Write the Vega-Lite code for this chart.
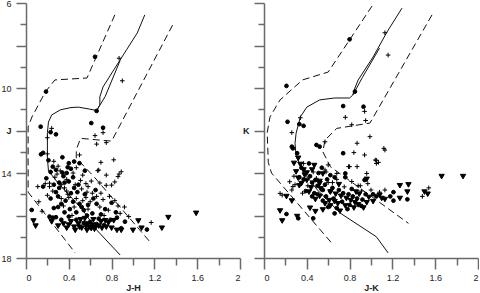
{
  "$schema": "https://vega.github.io/schema/vega-lite/v6.json",
  "padding": {"left": 0, "top": -1, "right": 0, "bottom": 0},
  "bounds": "flush",
  "spacing": 24,
  "background": "white",
  "config": {
    "view": {"stroke": null},
    "axis": {
      "domainColor": "#6a6a6a", "domainWidth": 1.5, "tickColor": "#6a6a6a", "tickWidth": 1.5,
      "grid": false, "labelFont": "Liberation Sans", "labelFontSize": 9, "labelColor": "#222",
      "titleFont": "Liberation Sans", "titleFontSize": 9, "titleFontWeight": "bold", "titleColor": "#222"
    }
  },
  "datasets": {
    "jh_lines": [
      {"s":"a","o":1,"d":0,"x":0.88,"y":17.86},{"s":"a","o":2,"d":0,"x":0.66,"y":16.68},{"s":"a","o":3,"d":0,"x":0.53,"y":15.74},
      {"s":"a","o":4,"d":0,"x":0.30,"y":14.47},{"s":"a","o":5,"d":0,"x":0.21,"y":13.9},{"s":"a","o":6,"d":0,"x":0.20,"y":13.3},
      {"s":"a","o":7,"d":0,"x":0.20,"y":12.1},{"s":"a","o":8,"d":0,"x":0.21,"y":11.6},{"s":"a","o":9,"d":0,"x":0.24,"y":11.27},
      {"s":"a","o":10,"d":0,"x":0.32,"y":11.03},{"s":"a","o":11,"d":0,"x":0.42,"y":10.92},{"s":"a","o":12,"d":0,"x":0.49,"y":10.9},
      {"s":"a","o":13,"d":0,"x":0.58,"y":10.98},{"s":"a","o":14,"d":0,"x":0.66,"y":11.06},{"s":"a","o":15,"d":0,"x":0.69,"y":10.8},
      {"s":"a","o":16,"d":0,"x":0.69,"y":10.42},{"s":"a","o":17,"d":0,"x":0.72,"y":9.95},{"s":"a","o":18,"d":0,"x":0.82,"y":9.15},
      {"s":"a","o":19,"d":0,"x":0.94,"y":8.2},{"s":"a","o":20,"d":0,"x":1.04,"y":7.41},{"s":"a","o":21,"d":0,"x":1.11,"y":6.56},
      {"s":"b","o":1,"d":0,"x":0.66,"y":11.06},{"s":"b","o":2,"d":0,"x":0.74,"y":10.4},{"s":"b","o":3,"d":0,"x":0.88,"y":8.7},
      {"s":"c","o":1,"d":1,"x":0.83,"y":6.56},{"s":"c","o":2,"d":1,"x":0.57,"y":9.53},{"s":"c","o":3,"d":1,"x":0.27,"y":9.62},
      {"s":"c","o":4,"d":1,"x":0.18,"y":10.19},{"s":"c","o":5,"d":1,"x":0.056,"y":11.36},{"s":"c","o":6,"d":1,"x":0.02,"y":11.83},
      {"s":"c","o":7,"d":1,"x":0.02,"y":14.9},{"s":"c","o":8,"d":1,"x":0.46,"y":17.76},
      {"s":"d","o":1,"d":1,"x":1.37,"y":7.04},{"s":"d","o":2,"d":1,"x":0.80,"y":12.5},{"s":"d","o":3,"d":1,"x":0.51,"y":12.37},
      {"s":"d","o":4,"d":1,"x":0.47,"y":12.9},{"s":"d","o":5,"d":1,"x":0.47,"y":13.3},{"s":"d","o":6,"d":1,"x":0.64,"y":14.2},
      {"s":"d","o":7,"d":1,"x":1.16,"y":17.25}
    ],
    "jk_lines": [
      {"s":"a","o":1,"d":0,"x":1.16,"y":17.76},{"s":"a","o":2,"d":0,"x":1.05,"y":17.0},{"s":"a","o":3,"d":0,"x":0.71,"y":15.88},
      {"s":"a","o":4,"d":0,"x":0.50,"y":14.8},{"s":"a","o":5,"d":0,"x":0.36,"y":13.9},{"s":"a","o":6,"d":0,"x":0.30,"y":13.2},
      {"s":"a","o":7,"d":0,"x":0.29,"y":12.6},{"s":"a","o":8,"d":0,"x":0.30,"y":12.13},{"s":"a","o":9,"d":0,"x":0.34,"y":11.36},
      {"s":"a","o":10,"d":0,"x":0.40,"y":10.9},{"s":"a","o":11,"d":0,"x":0.52,"y":10.56},{"s":"a","o":12,"d":0,"x":0.66,"y":10.47},
      {"s":"a","o":13,"d":0,"x":0.80,"y":10.47},{"s":"a","o":14,"d":0,"x":0.83,"y":10.33},{"s":"a","o":15,"d":0,"x":0.85,"y":10.0},
      {"s":"a","o":16,"d":0,"x":0.88,"y":9.62},{"s":"a","o":17,"d":0,"x":1.02,"y":8.54},{"s":"a","o":18,"d":0,"x":1.15,"y":7.36},
      {"s":"a","o":19,"d":0,"x":1.29,"y":6.24},
      {"s":"b","o":1,"d":0,"x":0.83,"y":10.33},{"s":"b","o":2,"d":0,"x":0.92,"y":9.5},{"s":"b","o":3,"d":0,"x":1.08,"y":8.12},
      {"s":"c","o":1,"d":1,"x":1.01,"y":6.14},{"s":"c","o":2,"d":1,"x":0.60,"y":9.25},{"s":"c","o":3,"d":1,"x":0.36,"y":9.62},
      {"s":"c","o":4,"d":1,"x":0.15,"y":10.56},{"s":"c","o":5,"d":1,"x":0.056,"y":11.36},{"s":"c","o":6,"d":1,"x":0.03,"y":12.1},
      {"s":"c","o":7,"d":1,"x":0.04,"y":13.5},{"s":"c","o":8,"d":1,"x":0.07,"y":14.0},{"s":"c","o":9,"d":1,"x":0.65,"y":17.4},
      {"s":"d","o":1,"d":1,"x":1.57,"y":6.56},{"s":"d","o":2,"d":1,"x":0.99,"y":11.65},{"s":"d","o":3,"d":1,"x":0.68,"y":11.9},
      {"s":"d","o":4,"d":1,"x":0.57,"y":12.45},{"s":"d","o":5,"d":1,"x":0.55,"y":13.0},{"s":"d","o":6,"d":1,"x":0.62,"y":13.7},
      {"s":"d","o":7,"d":1,"x":1.35,"y":16.37}
    ],
    "jh_pts": [
      {"t":"c","x":0.645,"y":8.53},{"t":"p","x":0.87,"y":8.6},{"t":"p","x":0.90,"y":9.66},{"t":"c","x":0.187,"y":10.17},
      {"t":"c","x":0.66,"y":11.08},{"t":"c","x":0.137,"y":11.82},{"t":"c","x":0.61,"y":11.65},{"t":"c","x":0.72,"y":11.87},
      {"t":"p","x":0.72,"y":12.1},{"t":"p","x":0.24,"y":11.9},{"t":"c","x":0.23,"y":12.08},{"t":"c","x":0.28,"y":12.18},
      {"t":"p","x":0.2,"y":12.34},{"t":"p","x":0.645,"y":12.24},{"t":"p","x":0.66,"y":12.64},{"t":"p","x":0.75,"y":12.57},
      {"t":"c","x":0.14,"y":13.12},{"t":"c","x":0.16,"y":13.05},{"t":"p","x":0.2,"y":13.1},{"t":"p","x":0.5,"y":13.15},{"t":"c","x":0.34,"y":13.26},
      {"t":"c","x":0.21,"y":13.4},{"t":"p","x":0.26,"y":13.45},{"t":"c","x":0.40,"y":13.54},{"t":"c","x":0.45,"y":13.46},
      {"t":"c","x":0.50,"y":13.54},{"t":"p","x":0.70,"y":13.5},{"t":"p","x":0.82,"y":13.38},{"t":"c","x":0.39,"y":13.73},
      {"t":"c","x":0.25,"y":13.7},{"t":"p","x":0.30,"y":13.68},{"t":"c","x":0.55,"y":13.89},{"t":"c","x":0.34,"y":13.98},
      {"t":"c","x":0.38,"y":14.0},{"t":"p","x":0.44,"y":14.0},{"t":"p","x":0.67,"y":13.89},{"t":"p","x":0.75,"y":14.1},
      {"t":"p","x":0.89,"y":13.94},{"t":"p","x":0.87,"y":14.05},{"t":"c","x":0.19,"y":14.25},{"t":"p","x":0.27,"y":14.2},
      {"t":"c","x":0.40,"y":14.4},{"t":"p","x":0.51,"y":14.35},{"t":"p","x":0.61,"y":14.38},{"t":"p","x":0.69,"y":14.47},
      {"t":"p","x":0.75,"y":14.58},{"t":"p","x":0.83,"y":14.42},{"t":"c","x":0.16,"y":14.64},{"t":"p","x":0.11,"y":14.64},
      {"t":"p","x":0.22,"y":14.64},{"t":"c","x":0.31,"y":14.7},{"t":"c","x":0.45,"y":14.7},{"t":"c","x":0.65,"y":14.8},
      {"t":"p","x":0.58,"y":14.64},{"t":"p","x":0.18,"y":14.5},{"t":"p","x":0.22,"y":14.48},{"t":"p","x":0.25,"y":14.85},
      {"t":"c","x":0.28,"y":14.9},{"t":"p","x":0.33,"y":14.55},{"t":"c","x":0.36,"y":14.45},{"t":"p","x":0.38,"y":14.85},
      {"t":"c","x":0.42,"y":14.95},{"t":"p","x":0.46,"y":14.55},{"t":"c","x":0.48,"y":14.9},{"t":"p","x":0.52,"y":14.75},
      {"t":"c","x":0.55,"y":15.0},{"t":"p","x":0.57,"y":14.9},{"t":"p","x":0.62,"y":14.95},{"t":"c","x":0.63,"y":15.2},
      {"t":"p","x":0.66,"y":15.1},{"t":"p","x":0.70,"y":14.95},{"t":"p","x":0.72,"y":15.25},{"t":"p","x":0.78,"y":15.1},
      {"t":"c","x":0.80,"y":15.4},{"t":"p","x":0.83,"y":15.3},{"t":"p","x":0.86,"y":15.55},{"t":"p","x":0.92,"y":15.6},
      {"t":"c","x":0.30,"y":15.1},{"t":"p","x":0.33,"y":15.2},{"t":"c","x":0.37,"y":15.3},{"t":"p","x":0.40,"y":15.15},
      {"t":"c","x":0.44,"y":15.35},{"t":"p","x":0.47,"y":15.2},{"t":"c","x":0.50,"y":15.45},{"t":"p","x":0.53,"y":15.3},
      {"t":"c","x":0.58,"y":15.5},{"t":"p","x":0.60,"y":15.35},{"t":"c","x":0.66,"y":15.45},{"t":"p","x":0.69,"y":15.6},
      {"t":"c","x":0.74,"y":15.7},{"t":"p","x":0.77,"y":15.75},{"t":"c","x":0.84,"y":15.85},{"t":"p","x":0.88,"y":15.9},
      {"t":"p","x":0.96,"y":16.05},{"t":"c","x":0.23,"y":15.2},{"t":"p","x":0.20,"y":15.05},{"t":"p","x":0.12,"y":15.35},
      {"t":"c","x":0.053,"y":15.74},{"t":"p","x":0.15,"y":15.8},{"t":"c","x":0.26,"y":15.65},{"t":"c","x":0.30,"y":15.6},
      {"t":"p","x":0.35,"y":15.55},{"t":"c","x":0.41,"y":15.7},{"t":"p","x":0.45,"y":15.6},{"t":"c","x":0.54,"y":15.75},
      {"t":"c","x":0.62,"y":15.9},{"t":"p","x":0.58,"y":15.7},{"t":"c","x":0.70,"y":15.95},{"t":"p","x":0.73,"y":16.0},
      {"t":"c","x":0.28,"y":13.85},{"t":"p","x":0.32,"y":13.9},{"t":"c","x":0.42,"y":13.8},{"t":"p","x":0.47,"y":13.75},
      {"t":"c","x":0.35,"y":14.15},{"t":"p","x":0.29,"y":14.05},{"t":"c","x":0.44,"y":14.2},{"t":"p","x":0.53,"y":14.1},
      {"t":"c","x":0.23,"y":13.95},{"t":"p","x":0.38,"y":14.3},{"t":"c","x":0.31,"y":14.45},{"t":"p","x":0.56,"y":14.5},
      {"t":"c","x":0.49,"y":14.55},{"t":"p","x":0.36,"y":14.7},{"t":"c","x":0.26,"y":14.55},{"t":"p","x":0.80,"y":14.57},
      {"t":"p","x":0.86,"y":14.17},{"t":"p","x":0.68,"y":13.86},
      {"t":"c","x":0.33,"y":15.45},{"t":"p","x":0.39,"y":15.0},{"t":"c","x":0.52,"y":15.6},{"t":"p","x":0.56,"y":15.15},
      {"t":"c","x":0.47,"y":15.85},{"t":"t","x":0.50,"y":16.55},{"t":"t","x":0.64,"y":16.65},{"t":"c","x":0.36,"y":15.85},
      {"t":"p","x":0.43,"y":16.0},{"t":"c","x":0.57,"y":16.0},{"t":"t","x":0.46,"y":16.7},{"t":"t","x":0.40,"y":16.45},
      {"t":"c","x":0.68,"y":16.15},{"t":"t","x":0.74,"y":16.25},
      {"t":"t","x":0.07,"y":16.26},{"t":"t","x":0.09,"y":16.5},{"t":"c","x":0.22,"y":16.05},{"t":"c","x":0.25,"y":16.1},
      {"t":"c","x":0.28,"y":16.08},{"t":"t","x":0.24,"y":16.3},{"t":"t","x":0.30,"y":16.5},{"t":"t","x":0.35,"y":16.4},
      {"t":"c","x":0.33,"y":16.2},{"t":"t","x":0.38,"y":16.6},{"t":"c","x":0.40,"y":16.05},{"t":"t","x":0.42,"y":16.3},
      {"t":"t","x":0.45,"y":16.55},{"t":"c","x":0.47,"y":16.2},{"t":"t","x":0.49,"y":16.4},{"t":"t","x":0.51,"y":16.2},
      {"t":"t","x":0.52,"y":16.6},{"t":"c","x":0.54,"y":16.35},{"t":"t","x":0.55,"y":16.15},{"t":"t","x":0.56,"y":16.5},
      {"t":"t","x":0.57,"y":16.7},{"t":"t","x":0.58,"y":16.4},{"t":"t","x":0.59,"y":16.55},{"t":"c","x":0.60,"y":16.3},
      {"t":"t","x":0.61,"y":16.62},{"t":"t","x":0.62,"y":16.45},{"t":"t","x":0.63,"y":16.2},{"t":"t","x":0.65,"y":16.55},
      {"t":"c","x":0.66,"y":16.4},{"t":"t","x":0.68,"y":16.5},{"t":"t","x":0.70,"y":16.3},{"t":"t","x":0.71,"y":16.6},
      {"t":"c","x":0.73,"y":16.45},{"t":"t","x":0.75,"y":16.55},{"t":"t","x":0.77,"y":16.35},{"t":"c","x":0.79,"y":16.2},
      {"t":"t","x":0.80,"y":16.6},{"t":"t","x":0.82,"y":16.25},{"t":"c","x":0.85,"y":16.1},{"t":"t","x":0.85,"y":16.7},
      {"t":"t","x":0.89,"y":16.7},{"t":"c","x":0.89,"y":16.6},{"t":"c","x":0.925,"y":16.29},{"t":"t","x":1.0,"y":16.7},
      {"t":"t","x":1.05,"y":16.26},{"t":"t","x":1.08,"y":16.6},{"t":"c","x":1.13,"y":16.66},{"t":"p","x":1.17,"y":16.33},
      {"t":"t","x":1.27,"y":16.6},{"t":"t","x":1.33,"y":16.1},{"t":"t","x":1.59,"y":15.9}
    ],
    "jk_pts": [
      {"t":"c","x":0.80,"y":7.71},{"t":"p","x":1.13,"y":7.4},{"t":"p","x":1.16,"y":8.45},{"t":"c","x":0.21,"y":9.9},
      {"t":"c","x":0.85,"y":10.17},{"t":"c","x":0.74,"y":10.85},{"t":"c","x":0.93,"y":10.88},{"t":"p","x":0.94,"y":11.1},
      {"t":"p","x":0.76,"y":11.38},{"t":"p","x":0.95,"y":11.53},{"t":"p","x":0.82,"y":11.73},{"t":"c","x":0.22,"y":11.59},
      {"t":"c","x":0.33,"y":11.7},{"t":"c","x":0.37,"y":11.78},{"t":"p","x":0.34,"y":11.4},{"t":"p","x":0.26,"y":12.1},
      {"t":"p","x":0.99,"y":12.29},{"t":"c","x":0.26,"y":12.76},{"t":"c","x":0.27,"y":12.84},{"t":"c","x":0.49,"y":12.68},
      {"t":"c","x":0.52,"y":12.76},{"t":"p","x":0.57,"y":12.53},{"t":"p","x":0.87,"y":12.6},{"t":"p","x":1.12,"y":12.84},
      {"t":"p","x":1.13,"y":12.92},{"t":"c","x":0.31,"y":13.07},{"t":"t","x":0.32,"y":13.31},{"t":"c","x":0.74,"y":13.07},
      {"t":"p","x":0.84,"y":13.04},{"t":"p","x":0.94,"y":13.15},{"t":"p","x":0.87,"y":13.7},{"t":"p","x":1.04,"y":13.39},
      {"t":"p","x":1.05,"y":13.55},{"t":"t","x":0.34,"y":13.6},{"t":"p","x":0.37,"y":13.55},{"t":"t","x":0.37,"y":13.86},
      {"t":"t","x":0.45,"y":13.86},{"t":"c","x":0.42,"y":13.55},{"t":"t","x":0.40,"y":14.0},{"t":"c","x":0.51,"y":14.0},
      {"t":"p","x":0.24,"y":14.41},{"t":"p","x":0.27,"y":14.64},{"t":"t","x":0.32,"y":14.25},{"t":"t","x":0.35,"y":14.5},
      {"t":"c","x":0.48,"y":14.33},{"t":"t","x":0.52,"y":14.5},{"t":"c","x":0.55,"y":14.8},{"t":"p","x":0.6,"y":13.62},
      {"t":"p","x":0.57,"y":13.86},{"t":"p","x":0.68,"y":14.02},{"t":"c","x":0.76,"y":14.02},{"t":"p","x":0.8,"y":13.7},
      {"t":"p","x":0.96,"y":14.02},{"t":"c","x":0.94,"y":14.33},{"t":"p","x":0.15,"y":14.96},{"t":"p","x":0.17,"y":15.04},
      {"t":"t","x":0.21,"y":15.11},{"t":"p","x":0.26,"y":14.8},{"t":"t","x":0.26,"y":15.32},{"t":"t","x":0.15,"y":15.79},
      {"t":"t","x":0.17,"y":16.26},{"t":"c","x":0.21,"y":15.93},{"t":"t","x":0.31,"y":16.05},{"t":"c","x":0.32,"y":16.13},
      {"t":"t","x":0.43,"y":15.66},{"t":"t","x":0.48,"y":15.82},{"t":"c","x":0.46,"y":16.13},{"t":"t","x":0.55,"y":15.74},
      {"t":"c","x":0.66,"y":15.9},{"t":"t","x":1.66,"y":14.17},{"t":"t","x":1.86,"y":14.17},{"t":"t","x":1.50,"y":14.9},
      {"t":"t","x":1.53,"y":15.0},{"t":"p","x":1.48,"y":15.1},{"t":"p","x":1.54,"y":14.7},{"t":"t","x":1.35,"y":14.56},
      {"t":"t","x":1.27,"y":14.6},{"t":"t","x":1.34,"y":14.9},{"t":"c","x":1.34,"y":15.24},{"t":"t","x":1.27,"y":15.2},
      {"t":"c","x":1.21,"y":14.9},{"t":"c","x":1.21,"y":15.3},{"t":"c","x":1.18,"y":15.1},{"t":"t","x":1.13,"y":15.25},
      {"t":"p","x":1.08,"y":14.9},{"t":"p","x":1.13,"y":14.8},{"t":"t","x":1.10,"y":15.2},{"t":"t","x":1.02,"y":15.35},
      {"t":"c","x":1.02,"y":15.0},{"t":"c","x":0.95,"y":15.0},{"t":"t","x":0.96,"y":15.4},{"t":"t","x":0.93,"y":15.65},
      {"t":"p","x":0.79,"y":13.7},{"t":"p","x":1.05,"y":13.4},{"t":"p","x":1.07,"y":13.5},{"t":"p","x":0.97,"y":14.5},
      {"t":"p","x":0.90,"y":14.6},{"t":"t","x":0.96,"y":14.3},{"t":"p","x":0.82,"y":14.4},{"t":"c","x":0.76,"y":14.2},
      {"t":"c","x":0.66,"y":14.2},
      {"t":"c","x":0.50,"y":14.6},{"t":"t","x":0.53,"y":14.75},{"t":"c","x":0.57,"y":14.55},{"t":"p","x":0.60,"y":14.45},
      {"t":"t","x":0.62,"y":14.9},{"t":"c","x":0.64,"y":14.7},{"t":"t","x":0.67,"y":15.0},{"t":"c","x":0.70,"y":14.8},
      {"t":"t","x":0.72,"y":15.1},{"t":"c","x":0.74,"y":14.95},{"t":"t","x":0.77,"y":15.2},{"t":"c","x":0.79,"y":15.0},
      {"t":"t","x":0.81,"y":15.3},{"t":"c","x":0.83,"y":15.1},{"t":"t","x":0.85,"y":15.4},{"t":"c","x":0.87,"y":15.2},
      {"t":"t","x":0.89,"y":15.0},{"t":"p","x":0.91,"y":14.85},{"t":"c","x":0.58,"y":15.1},{"t":"t","x":0.61,"y":15.3},
      {"t":"c","x":0.65,"y":15.2},{"t":"t","x":0.69,"y":15.45},{"t":"c","x":0.73,"y":15.35},{"t":"t","x":0.76,"y":15.55},
      {"t":"c","x":0.80,"y":15.5},{"t":"t","x":0.84,"y":15.65},{"t":"c","x":0.55,"y":15.3},{"t":"t","x":0.52,"y":15.1},
      {"t":"c","x":0.47,"y":14.95},{"t":"t","x":0.44,"y":14.7},{"t":"p","x":0.41,"y":14.6},{"t":"c","x":0.39,"y":14.85},
      {"t":"p","x":0.36,"y":14.95},{"t":"t","x":0.62,"y":15.55},{"t":"c","x":0.68,"y":15.65},{"t":"t","x":0.71,"y":15.8},
      {"t":"c","x":0.59,"y":14.3},{"t":"p","x":0.64,"y":14.45},{"t":"t","x":0.70,"y":14.55},{"t":"p","x":0.75,"y":14.65},
      {"t":"c","x":0.82,"y":14.75},{"t":"t","x":0.86,"y":14.9},{"t":"p","x":0.88,"y":14.6},{"t":"c","x":0.92,"y":15.25},
      {"t":"t","x":0.98,"y":15.15},{"t":"p","x":1.0,"y":14.8},{"t":"c","x":1.05,"y":15.1},{"t":"t","x":1.08,"y":15.05},
      {"t":"c","x":0.54,"y":13.75},{"t":"p","x":0.58,"y":13.95},{"t":"t","x":0.47,"y":13.65},{"t":"c","x":0.43,"y":14.15},
      {"t":"p","x":0.49,"y":14.25},{"t":"t","x":0.30,"y":13.95},{"t":"p","x":0.28,"y":14.15},{"t":"c","x":0.33,"y":14.2},
      {"t":"t","x":0.40,"y":14.35},{"t":"p","x":0.29,"y":14.55},{"t":"c","x":0.45,"y":14.45},{"t":"t","x":0.55,"y":14.05},
      {"t":"c","x":0.62,"y":14.1},{"t":"p","x":0.68,"y":14.3},
      {"t":"t","x":0.33,"y":14.6},{"t":"c","x":0.37,"y":14.3},{"t":"t","x":0.42,"y":14.9},{"t":"c","x":0.45,"y":15.1},
      {"t":"t","x":0.48,"y":15.25},{"t":"c","x":0.50,"y":15.0},{"t":"t","x":0.57,"y":15.45},{"t":"c","x":0.60,"y":15.6},
      {"t":"t","x":0.38,"y":14.1},{"t":"p","x":0.46,"y":13.95},{"t":"t","x":0.52,"y":14.4},{"t":"c","x":0.35,"y":13.75},
      {"t":"t","x":0.28,"y":13.55},{"t":"c","x":0.62,"y":14.85},{"t":"t","x":0.66,"y":15.35},{"t":"c","x":0.78,"y":15.7},
      {"t":"t","x":0.88,"y":15.5},{"t":"c","x":0.91,"y":15.55}
    ]
  },
  "hconcat": [
    {
      "width": 214, "height": 255,
      "encoding": {
        "x": {"field": "x", "type": "quantitative", "title": "J-H",
          "scale": {"domain": [0, 2], "nice": false, "zero": false},
          "axis": {"values": [0,0.2,0.4,0.6,0.8,1,1.2,1.4,1.6,1.8,2], "format": "~g", "labelPadding": 4, "titlePadding": 1,
            "labelExpr": "round(datum.value*10) % 4 == 0 ? datum.label : ''",
            "tickSize": {"condition": {"test": "round(datum.value*10) % 4 == 0", "value": 11}, "value": 7}}},
        "y": {"field": "y", "type": "quantitative", "title": null,
          "scale": {"domain": [6, 18], "reverse": true, "nice": false, "zero": false},
          "axis": {"values": [6,7,8,9,10,11,12,13,14,15,16,17,18], "labelPadding": 5,
            "labelExpr": "datum.value == 12 ? 'J' : (datum.value % 4 == 2 ? datum.label : '')",
            "labelFontWeight": {"condition": {"test": "datum.value == 12", "value": "bold"}, "value": "normal"},
            "tickSize": {"condition": {"test": "datum.value % 2 == 0", "value": 10}, "value": 6}}}
      },
      "layer": [
        {"data": {"name": "jh_lines"}, "transform": [{"filter": "datum.d == 0"}],
         "mark": {"type": "line", "color": "#111", "strokeWidth": 1},
         "encoding": {"detail": {"field": "s"}, "order": {"field": "o"}}},
        {"data": {"name": "jh_lines"}, "transform": [{"filter": "datum.d == 1"}],
         "mark": {"type": "line", "color": "#111", "strokeWidth": 1, "strokeDash": [7, 4]},
         "encoding": {"detail": {"field": "s"}, "order": {"field": "o"}}},
        {"data": {"name": "jh_pts"},
         "mark": {"type": "point", "filled": true, "color": "black", "stroke": "black", "strokeWidth": 1, "opacity": 1},
         "encoding": {
           "shape": {"field": "t", "type": "nominal", "legend": null,
             "scale": {"domain": ["c","p","t"], "range": ["circle", "M-1,0H1M0,-1V1", "triangle-down"]}},
           "size": {"field": "t", "type": "nominal", "legend": null,
             "scale": {"domain": ["c","p","t"], "range": [14, 28, 24]}}}}
      ]
    },
    {
      "width": 214, "height": 255,
      "encoding": {
        "x": {"field": "x", "type": "quantitative", "title": "J-K",
          "scale": {"domain": [0, 2], "nice": false, "zero": false},
          "axis": {"values": [0,0.2,0.4,0.6,0.8,1,1.2,1.4,1.6,1.8,2], "format": "~g", "labelPadding": 4, "titlePadding": 1,
            "labelExpr": "round(datum.value*10) % 4 == 0 ? datum.label : ''",
            "tickSize": {"condition": {"test": "round(datum.value*10) % 4 == 0", "value": 11}, "value": 7}}},
        "y": {"field": "y", "type": "quantitative", "title": null,
          "scale": {"domain": [6, 18], "reverse": true, "nice": false, "zero": false},
          "axis": {"values": [6,7,8,9,10,11,12,13,14,15,16,17,18], "labelPadding": 5,
            "labelExpr": "datum.value == 12 ? 'K' : ''",
            "labelFontWeight": "bold",
            "tickSize": {"condition": {"test": "datum.value % 2 == 0", "value": 10}, "value": 6}}}
      },
      "layer": [
        {"data": {"name": "jk_lines"}, "transform": [{"filter": "datum.d == 0"}],
         "mark": {"type": "line", "color": "#111", "strokeWidth": 1},
         "encoding": {"detail": {"field": "s"}, "order": {"field": "o"}}},
        {"data": {"name": "jk_lines"}, "transform": [{"filter": "datum.d == 1"}],
         "mark": {"type": "line", "color": "#111", "strokeWidth": 1, "strokeDash": [7, 4]},
         "encoding": {"detail": {"field": "s"}, "order": {"field": "o"}}},
        {"data": {"name": "jk_pts"},
         "mark": {"type": "point", "filled": true, "color": "black", "stroke": "black", "strokeWidth": 1, "opacity": 1},
         "encoding": {
           "shape": {"field": "t", "type": "nominal", "legend": null,
             "scale": {"domain": ["c","p","t"], "range": ["circle", "M-1,0H1M0,-1V1", "triangle-down"]}},
           "size": {"field": "t", "type": "nominal", "legend": null,
             "scale": {"domain": ["c","p","t"], "range": [14, 28, 24]}}}}
      ]
    }
  ]
}
